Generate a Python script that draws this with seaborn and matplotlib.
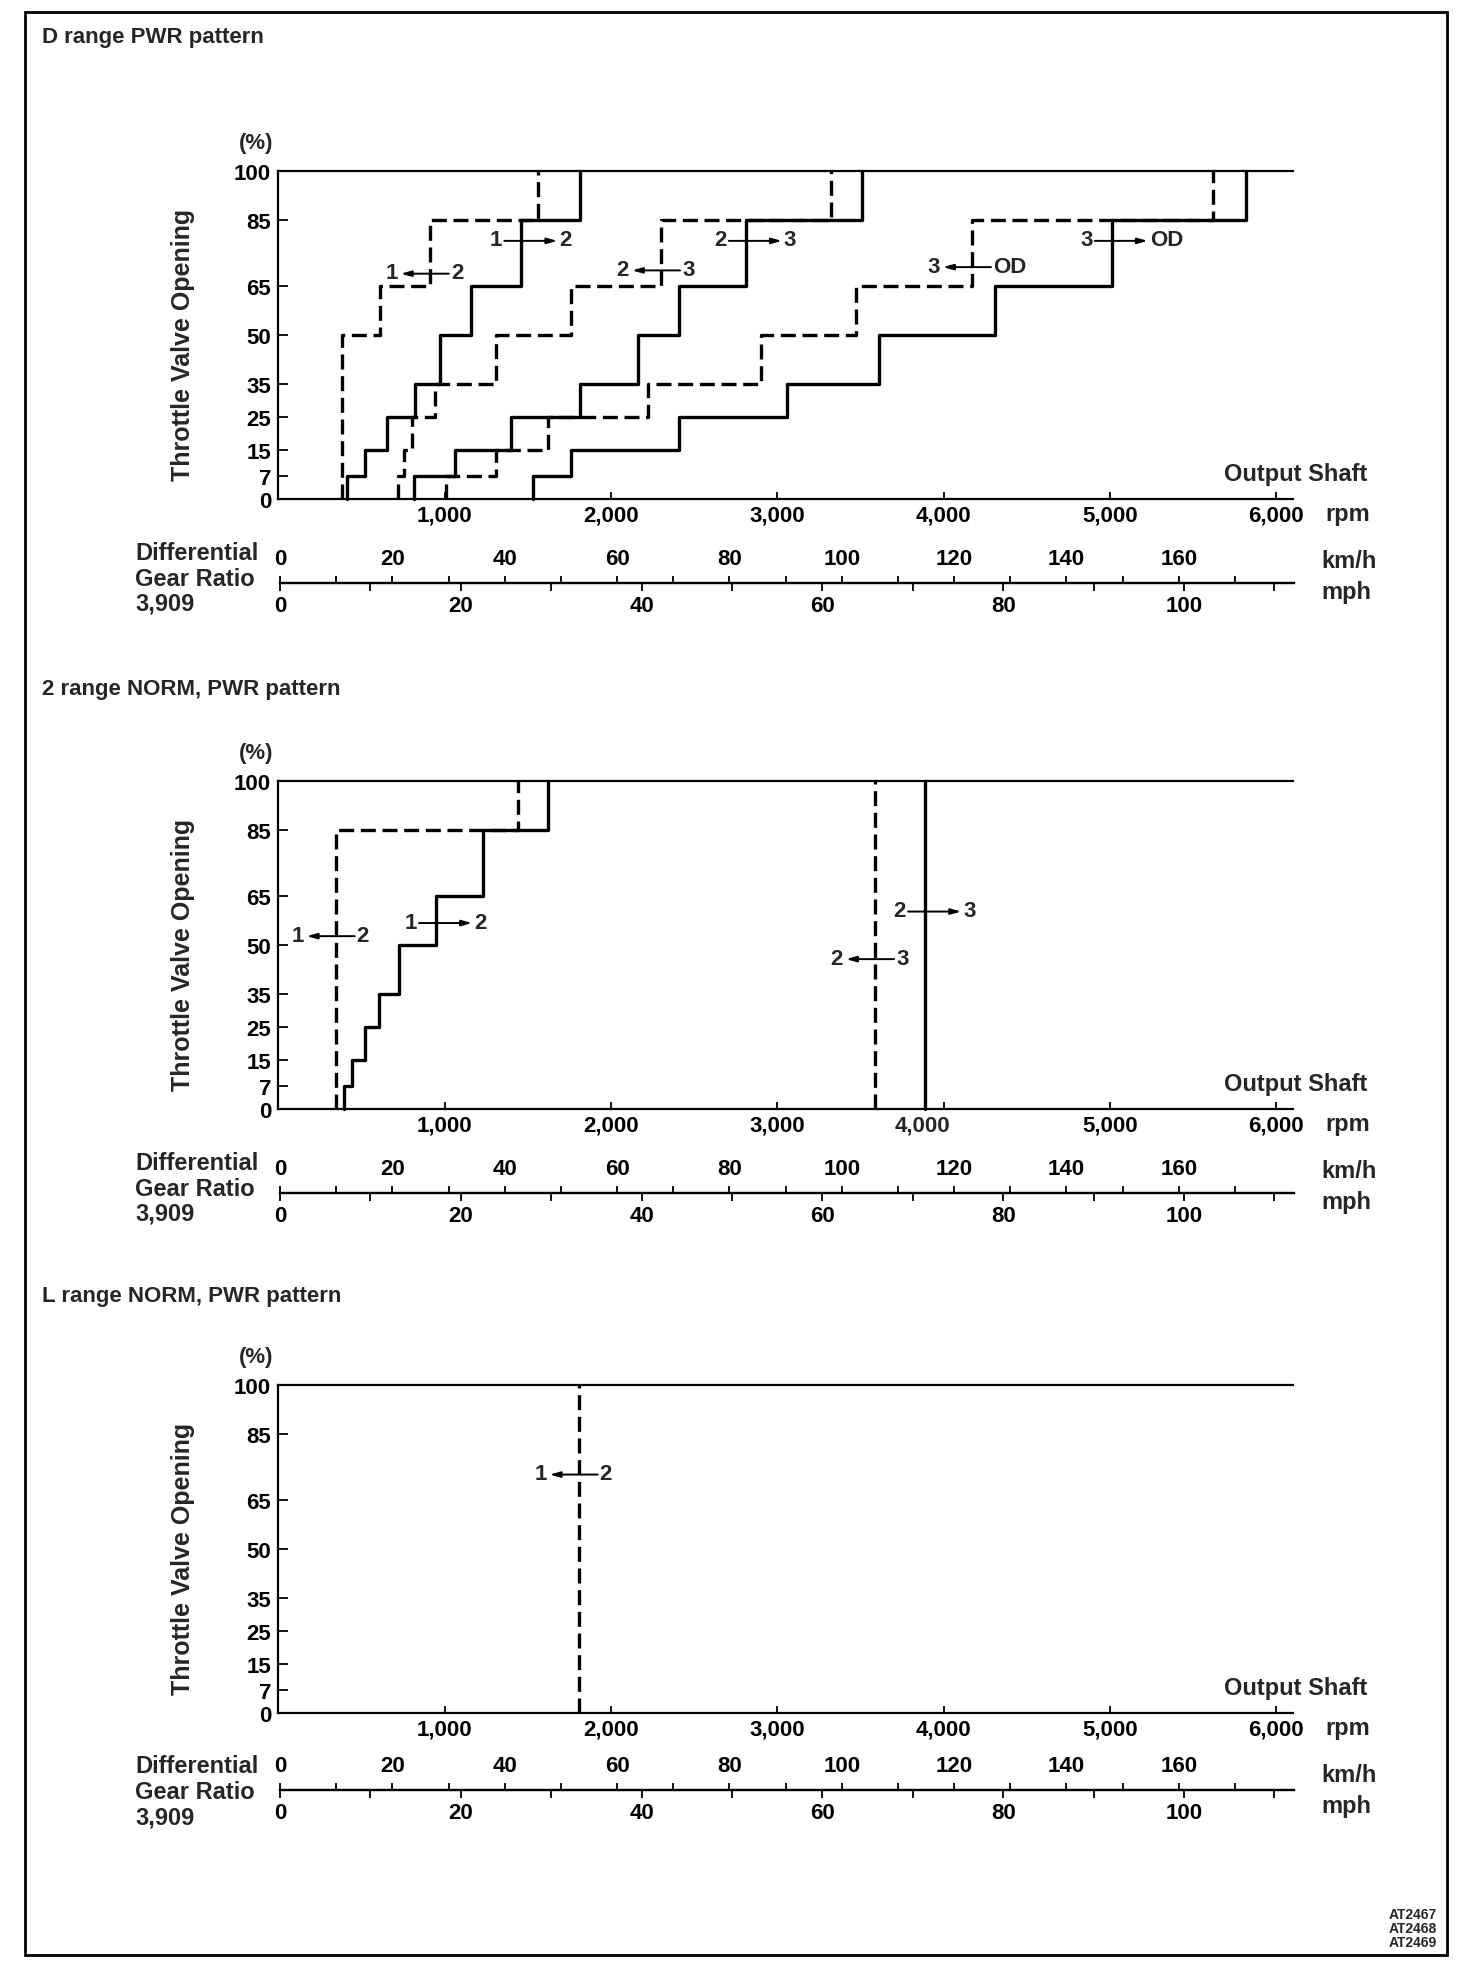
import matplotlib
matplotlib.use('Agg')
import matplotlib.pyplot as plt
import matplotlib.transforms as mtransforms
from matplotlib.patches import Rectangle
import seaborn as sns

sns.set_theme(style='white')
plt.rcParams['font.family'] = ['Liberation Sans', 'DejaVu Sans']
plt.rcParams['font.weight'] = 'bold'

W, H = 1472, 1974

# ---- chart data ----
throttle_ticks = [0, 7, 15, 25, 35, 50, 65, 85, 100]
full_levels = [0, 7, 15, 25, 35, 50, 65, 85, 100]
rpm_ticks = [1000, 2000, 3000, 4000, 5000, 6000]
rpm_labels = ['1,000', '2,000', '3,000', '4,000', '5,000', '6,000']
kmh_major = [0, 20, 40, 60, 80, 100, 120, 140, 160]
kmh_minor = [10, 30, 50, 70, 90, 110, 130, 150, 170]
mph_major = [0, 20, 40, 60, 80, 100]
mph_minor = [10, 30, 50, 70, 90, 110]

# D range (rpm where each step goes up to the next throttle level)
d_up12_rpm = [412, 520, 650, 820, 970, 1160, 1460, 1810]
d_dn12_rpm = [380, 610, 910, 1560]
d_dn12_lvl = [0, 50, 65, 85, 100]
d_up23_rpm = [815, 1060, 1400, 1810, 2160, 2410, 2810, 3510]
d_dn23_rpm = [720, 755, 805, 940, 1310, 1760, 2300, 3320]
d_up3od_rpm = [1530, 1760, 2410, 3060, 3610, 4310, 5010, 5820]
d_dn3od_rpm = [1010, 1310, 1620, 2220, 2900, 3470, 4170, 5620]

# 2 range
r2_up12_rpm = [394, 444, 520, 606, 726, 947, 1232, 1623]
r2_dn12_rpm = [344, 1438]
r2_dn12_lvl = [0, 85, 100]
r2_up23_rpm = [3888]
r2_dn23_rpm = [3587]
wot_lvl = [0, 100]

# L range
l_dn12_rpm = [1805]

# shift labels: left, right, rpm of crossing, throttle level, upshift?
d_labels = [('1', '2', 910, 69, False), ('1', '2', 1460, 79, True),
            ('2', '3', 2300, 70, False), ('2', '3', 2810, 79, True),
            ('3', 'OD', 4170, 71, False), ('3', 'OD', 5010, 79, True)]
r2_labels = [('1', '2', 344, 53, False), ('1', '2', 947, 57, True),
             ('2', '3', 3587, 46, False), ('2', '3', 3888, 60.5, True)]
l_labels = [('1', '2', 1805, 73, False)]

fig = plt.figure(figsize=(W / 100, H / 100), dpi=100)
fig.patch.set_facecolor('white')

FS = 16


def ftext(x, y, s, **kw):
    kw.setdefault('fontsize', FS)
    fig.text(x / W, 1 - y / H, s, **kw)


def stair(rpm, lvl):
    xs, ys = [], []
    for i, r in enumerate(rpm):
        xs += [r, r]
        ys += [lvl[i], lvl[i + 1]]
    return xs, ys


def shift_label(ax, left, right, cross, lvl, up):
    gl, gr = (19, 38) if up else (32, 21)
    tr = ax.transData
    ax.text(cross, lvl, left, fontsize=FS, ha='right', va='center',
            transform=mtransforms.offset_copy(tr, fig=fig, x=-gl, y=0, units='dots'))
    ax.text(cross, lvl, right, fontsize=FS, ha='left', va='center',
            transform=mtransforms.offset_copy(tr, fig=fig, x=gr, y=0, units='dots'))
    tail, tip = (-gl + 2, gr - 2) if up else (gr - 2, -gl + 3)
    ax.annotate('', xy=(cross, lvl),
                xycoords=mtransforms.offset_copy(tr, fig=fig, x=tip, y=-1, units='dots'),
                xytext=(cross, lvl),
                textcoords=mtransforms.offset_copy(tr, fig=fig, x=tail, y=-1, units='dots'),
                arrowprops=dict(arrowstyle='-|>,head_length=0.5,head_width=0.14',
                                lw=1.4, color='black', shrinkA=0, shrinkB=0))


def panel(y0, title, title_y, curves, labels, shift4000=0, line_off=84):
    top = y0 - 328
    ax = fig.add_axes([278 / W, 1 - y0 / H, (1293 - 278) / W, 328 / H])
    for rpm, lvl, dashed in curves:
        xs, ys = stair(rpm, lvl)
        ls = (0, (4.5, 2.0)) if dashed else '-'
        sns.lineplot(x=xs, y=ys, ax=ax, sort=False, estimator=None, color='black',
                     lw=2.4, linestyle=ls, legend=False, clip_on=False)
    ax.set_xlim(-3, 6100)
    ax.set_ylim(0, 100)
    ax.set_xlabel('')
    ax.set_ylabel('')
    ax.grid(False)
    ax.spines['right'].set_visible(False)
    for s in ['left', 'top', 'bottom']:
        ax.spines[s].set_linewidth(1.6)
        ax.spines[s].set_color('black')
    ax.set_yticks(throttle_ticks)
    ax.set_yticklabels([str(t) for t in throttle_ticks])
    ax.set_xticks(rpm_ticks)
    lbls = list(rpm_labels)
    if shift4000:
        lbls[3] = ''
    ax.set_xticklabels(lbls)
    ax.tick_params(axis='y', direction='in', length=7, width=1.3, pad=5,
                   labelsize=FS, colors='black', right=False, left=True)
    ax.tick_params(axis='x', direction='in', length=5, width=1.3, pad=4,
                   labelsize=FS, colors='black', top=False, bottom=True)
    if shift4000:
        ax.text(4000, 0, '4,000', fontsize=FS, ha='center', va='top',
                transform=mtransforms.offset_copy(ax.get_xaxis_transform(), fig=fig,
                                                  x=shift4000, y=-5.5, units='dots'))
    for left, right, cross, lvl, up in labels:
        shift_label(ax, left, right, cross, lvl, up)

    ftext(42, title_y, title, va='center')
    ftext(256, top - 28, '(%)', ha='center', va='center')
    ftext(183, y0 - 155, 'Throttle Valve Opening', rotation=90, ha='center',
          va='center', fontsize=18)
    ftext(1367, y0 - 25, 'Output Shaft', ha='right', va='center', fontsize=17)
    ftext(1325, y0 + 15, 'rpm', ha='left', va='center', fontsize=17)

    # vehicle speed scale for differential gear ratio 3.909
    line_y = y0 + line_off
    ax_s = fig.add_axes([280 / W, 1 - line_y / H, (1294 - 280) / W, 10 / H])
    ax_s.set_xlim(0, 180.5)
    ax_s.set_ylim(0, 1)
    ax_s.patch.set_alpha(0)
    for s in ['left', 'right', 'top']:
        ax_s.spines[s].set_visible(False)
    ax_s.spines['bottom'].set_linewidth(1.6)
    ax_s.spines['bottom'].set_color('black')
    ax_s.set_yticks([])
    ax_s.set_xticks(kmh_major)
    ax_s.set_xticklabels([str(v) for v in kmh_major])
    ax_s.set_xticks(kmh_minor, minor=True)
    ax_s.tick_params(axis='x', which='both', direction='in', length=5, width=1.3,
                     bottom=True, top=False, labelbottom=False, labeltop=True,
                     labelsize=FS, pad=3, colors='black')
    sec = ax_s.secondary_xaxis('bottom', functions=(lambda k: k / 1.609344,
                                                    lambda m: m * 1.609344))
    sec.set_xticks(mph_major)
    sec.set_xticklabels([str(v) for v in mph_major])
    sec.set_xticks(mph_minor, minor=True)
    sec.tick_params(axis='x', which='both', direction='out', length=5.5, width=1.3,
                    labelsize=FS, pad=3, colors='black')
    sec.spines['bottom'].set_linewidth(1.6)

    ftext(135, y0 + 53, 'Differential', ha='left', va='center', fontsize=17)
    ftext(135, y0 + 79, 'Gear Ratio', ha='left', va='center', fontsize=17)
    ftext(135, y0 + 104, '3,909', ha='left', va='center', fontsize=17)
    ftext(1321, y0 + 62, 'km/h', ha='left', va='center', fontsize=17)
    ftext(1321, y0 + 93, 'mph', ha='left', va='center', fontsize=17)
    return ax


panel(500, 'D range PWR pattern', 38,
      [(d_dn12_rpm, d_dn12_lvl, True), (d_up12_rpm, full_levels, False),
       (d_dn23_rpm, full_levels, True), (d_up23_rpm, full_levels, False),
       (d_dn3od_rpm, full_levels, True), (d_up3od_rpm, full_levels, False)],
      d_labels)

panel(1110, '2 range NORM, PWR pattern', 689,
      [(r2_dn12_rpm, r2_dn12_lvl, True), (r2_up12_rpm, full_levels, False),
       (r2_dn23_rpm, wot_lvl, True), (r2_up23_rpm, wot_lvl, False)],
      r2_labels, shift4000=-21)

panel(1714, 'L range NORM, PWR pattern', 1297,
      [(l_dn12_rpm, wot_lvl, True)],
      l_labels, line_off=77)

# figure code
for i, code in enumerate(['AT2467', 'AT2468', 'AT2469']):
    ftext(1437, 1915 + 14 * i, code, ha='right', va='center', fontsize=10)

fig.patches.append(Rectangle((25 / W, 1 - 1956 / H), 1422 / W, 1943 / H,
                             transform=fig.transFigure, fill=False, lw=2,
                             ec='black'))

fig.savefig('out.png', dpi=100)
